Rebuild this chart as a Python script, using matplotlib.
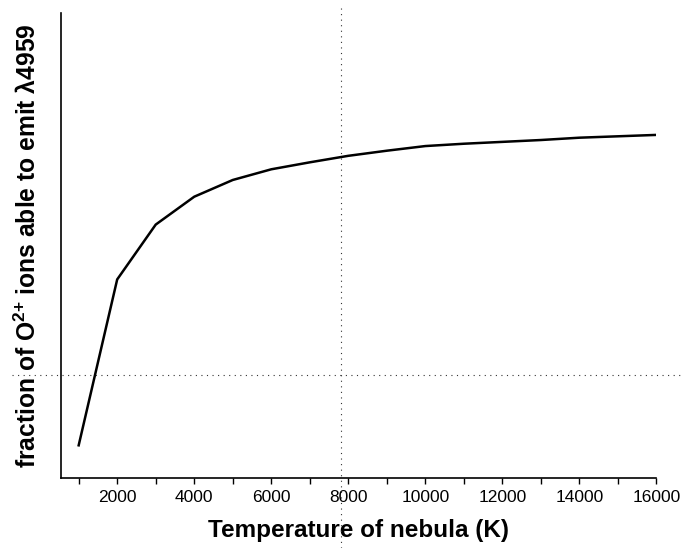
import matplotlib
matplotlib.use("Agg")
import matplotlib.pyplot as plt
from matplotlib.ticker import MultipleLocator

# Data
temperature = [1000, 2000, 3000, 4000, 5000, 6000, 7000, 8000,
               9000, 10000, 11000, 12000, 13000, 14000, 15000, 16000]
fraction = [0.070, 0.427, 0.545, 0.605, 0.641, 0.664, 0.679, 0.693,
            0.704, 0.714, 0.719, 0.723, 0.727, 0.732, 0.735, 0.738]
marker_temperature = 7800
marker_fraction = 0.221
major_ticks = [2000, 4000, 6000, 8000, 10000, 12000, 14000, 16000]

plt.rcParams['font.family'] = ['Liberation Sans', 'DejaVu Sans']
plt.rcParams['mathtext.fontset'] = 'custom'
plt.rcParams['mathtext.rm'] = 'Liberation Sans'
plt.rcParams['mathtext.bf'] = 'Liberation Sans:bold'

fig = plt.figure(figsize=(6.81, 5.48), dpi=100)
ax = fig.add_axes([0.089, 0.128, 0.875, 0.848])

ax.plot(temperature, fraction, color='black', lw=1.8, solid_joinstyle='miter')

ax.axvline(marker_temperature, ymin=-0.151, ymax=1.011, color='#333333',
           lw=0.8, linestyle=(0, (1, 4)), clip_on=False)
ax.axhline(marker_fraction, xmin=-0.082, xmax=1.041, color='#333333',
           lw=0.8, linestyle=(0, (1, 4)), clip_on=False)

ax.set_xlim(531, 16000)
ax.set_ylim(0, 1)

for s in ['top', 'right']:
    ax.spines[s].set_visible(False)
for s in ['left', 'bottom']:
    ax.spines[s].set_linewidth(1.2)
    ax.spines[s].set_color('black')

ax.set_xticks(major_ticks)
ax.set_xticklabels([str(t) for t in major_ticks])
ax.xaxis.set_minor_locator(MultipleLocator(1000))
ax.tick_params(axis='x', which='both', direction='out', length=4, width=1.0,
               labelsize=12.5, pad=5)
ax.set_yticks([])

ax.set_xlabel('Temperature of nebula (K)', fontsize=17.5, fontweight='bold',
              labelpad=10)
ax.set_ylabel('fraction of O$^{\\mathbf{2{+}}}$ ions able to emit \u03bb4959',
              fontsize=17.7, fontweight='bold', labelpad=14)

fig.savefig('out.png', dpi=100)
